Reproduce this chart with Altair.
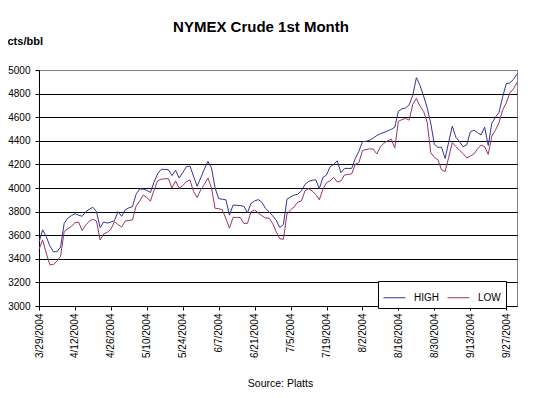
import altair as alt
import pandas as pd

# Trading-day categories (every weekday, 3/29/2004 .. 9/30/2004)
dates = pd.bdate_range("2004-03-29", "2004-09-30")
date_labels = [f"{d.month}/{d.day}/{d.year}" for d in dates]
tick_labels = date_labels[::10]

y_ticks = [3000, 3200, 3400, 3600, 3800, 4000, 4200, 4400, 4600, 4800, 5000]

high = [
    3540, 3645, 3590, 3510, 3460, 3460, 3500, 3700, 3745, 3765,
    3782, 3770, 3760, 3799, 3820, 3836, 3800, 3665, 3712, 3703,
    3711, 3724, 3800, 3760, 3815, 3832, 3842, 3945, 3992, 3990,
    3980, 3962, 4050, 4120, 4158, 4158, 4155, 4105, 4150, 4085,
    4130, 4180, 4186, 4100, 4015, 4085, 4160, 4225, 4170, 4000,
    3910, 3905, 3900, 3770, 3855, 3853, 3851, 3845, 3790, 3870,
    3890, 3902, 3880, 3828, 3800, 3765, 3727, 3665, 3690, 3905,
    3925, 3940, 3947, 3975, 4030, 4055, 4065, 4070, 3995, 4090,
    4110, 4180, 4200, 4230, 4130, 4166, 4166, 4166, 4250, 4310,
    4393, 4396, 4405, 4424, 4445, 4460, 4471, 4483, 4497, 4515,
    4650, 4671, 4678, 4705, 4785, 4935, 4870, 4780, 4680, 4550,
    4370, 4345, 4345, 4250, 4390, 4525, 4430, 4393, 4350, 4365,
    4475, 4490, 4470, 4449, 4515, 4360, 4550, 4600, 4640, 4770,
    4885, 4890, 4920, 4965,
]

low = [
    3480, 3560, 3450, 3350, 3350, 3380, 3420, 3630, 3655, 3675,
    3705, 3712, 3640, 3686, 3720, 3735, 3720, 3560, 3610, 3625,
    3650, 3715, 3690, 3670, 3720, 3725, 3729, 3845, 3890, 3940,
    3920, 3888, 3980, 4060, 4075, 4078, 4080, 4000, 4060, 3998,
    4020, 4054, 4068, 3970, 3920, 3985, 4030, 4085, 4000, 3828,
    3825, 3815, 3740, 3660, 3751, 3751, 3750, 3700, 3700, 3800,
    3813, 3790, 3765, 3745, 3745, 3700, 3630, 3570, 3565, 3780,
    3815, 3840, 3880, 3890, 3975, 3995, 3975, 3945, 3900, 3990,
    4045, 4060, 4090, 4050, 4060, 4110, 4115, 4120, 4200, 4215,
    4318, 4326, 4332, 4330, 4288, 4350, 4380, 4400, 4414, 4340,
    4565, 4580, 4590, 4575, 4710, 4760, 4695, 4650, 4560, 4300,
    4260, 4240, 4155, 4140, 4260, 4385, 4350, 4320, 4292, 4255,
    4270, 4288, 4330, 4364, 4350, 4285, 4440, 4490, 4555, 4660,
    4720, 4805, 4840, 4895,
]

series_names = ["HIGH", "LOW"]
series_colors = ["#333399", "#993366"]

df = pd.DataFrame({
    "date": date_labels + date_labels,
    "price": high + low,
    "series": ["HIGH"] * len(high) + ["LOW"] * len(low),
})

FONT = "Liberation Sans"

chart = alt.Chart(df).mark_line(strokeWidth=1).encode(
    x=alt.X(
        "date:N",
        sort=None,
        scale=alt.Scale(type="point", padding=0),
        axis=alt.Axis(
            values=tick_labels,
            labelAngle=-90,
            labelFontSize=10,
            labelFont=FONT,
            labelColor="black",
            labelPadding=3,
            tickSize=4,
            tickColor="black",
            domainColor="black",
            grid=False,
            title="Source: Platts",
            titleFont=FONT,
            titleFontSize=10.5,
            titleFontWeight="normal",
            titleColor="black",
            titleBaseline="alphabetic",
            titleX=241,
            titleY=80,
        ),
    ),
    y=alt.Y(
        "price:Q",
        scale=alt.Scale(domain=[3000, 5000], nice=False, zero=False),
        axis=alt.Axis(
            values=y_ticks,
            format="d",
            labelFontSize=10,
            labelFont=FONT,
            labelColor="black",
            labelPadding=5,
            tickSize=4,
            tickColor="black",
            domainColor="black",
            grid=True,
            gridColor={"condition": {"test": "datum.value >= 5000", "value": "#808080"}, "value": "black"},
            gridOpacity=1,
            title="cts/bbl",
            titleFont=FONT,
            titleFontSize=11,
            titleFontWeight="bold",
            titleColor="black",
            titleAngle=0,
            titleAlign="left",
            titleBaseline="alphabetic",
            titleX=-32,
            titleY=-26,
        ),
    ),
    color=alt.Color(
        "series:N",
        scale=alt.Scale(domain=series_names, range=series_colors),
        legend=alt.Legend(
            orient="none",
            legendX=339,
            legendY=211,
            direction="horizontal",
            title=None,
            symbolType="stroke",
            symbolSize=484,
            symbolStrokeWidth=1,
            labelFont=FONT,
            labelFontSize=10,
            labelColor="black",
            labelOffset=8,
            columnPadding=6,
            padding=5,
            fillColor="white",
            strokeColor="black",
        ),
    ),
).properties(
    width=478,
    height=236,
    title=alt.TitleParams(
        "NYMEX Crude 1st Month",
        font=FONT,
        fontSize=15,
        fontWeight="bold",
        color="black",
        anchor="middle",
        frame="group",
        dx=-17,
        offset=0,
    ),
    autosize=alt.AutoSizeParams(type="none"),
    padding={"left": 31, "top": 62, "right": 8, "bottom": 84},
    background="white",
).configure_view(stroke="#808080", strokeWidth=1)

chart.save("out.html", embed_options={"renderer": "svg", "actions": False})
